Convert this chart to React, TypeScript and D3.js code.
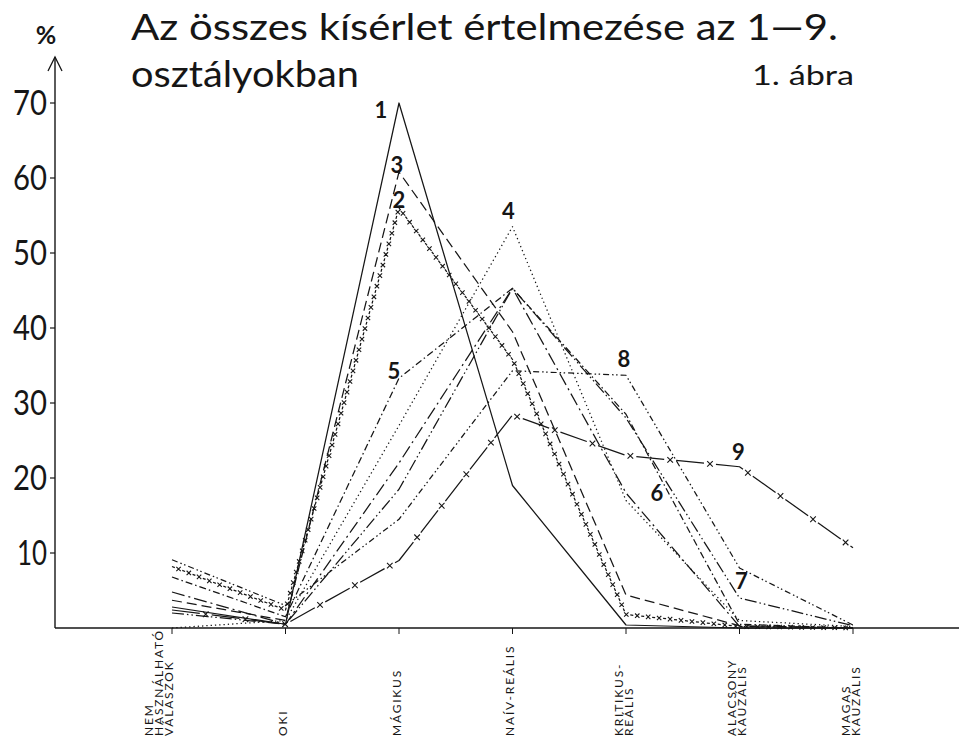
import React from 'react';
import * as d3 from 'd3';

// category labels (each inner array = lines of the rotated label)
const categories: string[][] = [
  ['NEM', 'HASZNÁLHATÓ', 'VÁLASZOK'],
  ['OKI'],
  ['MÁGIKUS'],
  ['NAÍV-REÁLIS'],
  ['KRITIKUS-', 'REÁLIS'],
  ['ALACSONY', 'KAUZÁLIS'],
  ['MAGAS', 'KAUZÁLIS'],
];

const yTicks = [10, 20, 30, 40, 50, 60, 70];

// percentages per class (1-9)
const class1 = [2.8, 0.5, 70, 19, 0.4, 0, 0];
const class2 = [8.2, 2.4, 56, 35.8, 1.8, 0.2, 0];
const class3 = [3.7, 1, 60.8, 39.5, 4.4, 0.3, 0];
const class4 = [0, 1, 27, 53.5, 17, 1, 0.2];
const class5 = [6.8, 1.5, 33.3, 45.3, 28.5, 0.5, 0];
const class6 = [4.8, 0.5, 22, 45.3, 18, 0.2, 0];
const class7 = [2, 0.5, 18.5, 45.3, 28, 4, 0.3];
const class8 = [9.1, 3, 14.5, 34.3, 33.7, 8, 0.4];
const class9 = [2.4, 0.5, 9, 28.4, 23, 21.5, 10.7];

const seriesNames = ['1', '2', '3', '4', '5', '6', '7', '8', '9'];

const W = 959;
const H = 737;
const ink = '#161616';
const font = 'Lato, "Open Sans", sans-serif';

// line styles
const styles = [
  { dash: null, mark: null },
  { dash: '3,8', mark: { step: 11, start: 7, r: 2.2 } },
  { dash: '10,5', mark: null },
  { dash: '1.3,3', mark: null },
  { dash: '7,3,1.5,3', mark: null },
  { dash: '13,4,2,4', mark: null },
  { dash: '12,3,1.5,3,1.5,3', mark: null },
  { dash: '6,3,1.5,2.5,1.5,3', mark: null },
  { dash: '28,12', mark: { step: 40, start: 34, r: 2.8 } },
];

// where the number tags sit: [category index, value, dx, dy]
const labelAt: [number, number, number, number][] = [
  [2, 70, -18, 7],
  [2, 56, 0, -8],
  [2, 60.8, -2, -7],
  [3, 53.5, -4, -15],
  [2, 33.3, -5, -7],
  [4, 18, 31, 0],
  [5, 4, 2, -17],
  [4, 33.7, -2, -16],
  [5, 21.5, -1, -14],
];

function along(pts: [number, number][], step: number, start: number) {
  const out: [number, number][] = [];
  let acc = 0;
  let next = start;
  for (let i = 1; i < pts.length; i++) {
    const [x0, y0] = pts[i - 1];
    const [x1, y1] = pts[i];
    const len = Math.hypot(x1 - x0, y1 - y0);
    while (next <= acc + len) {
      const t = (next - acc) / len;
      out.push([x0 + (x1 - x0) * t, y0 + (y1 - y0) * t]);
      next += step;
    }
    acc += len;
  }
  return out;
}

const App: React.FC = () => {
  const data = [class1, class2, class3, class4, class5, class6, class7, class8, class9];
  const x = d3.scaleLinear().domain([0, categories.length - 1]).range([172, 853]);
  const y = d3.scaleLinear().domain([0, 70]).range([628, 103]);
  const axisX = 55;

  const line = d3.line<number>()
    .x((_, i) => x(i))
    .y(d => y(d));

  return (
    <svg width={W} height={H} viewBox={`0 0 ${W} ${H}`}
      style={{ position: 'absolute', left: 0, top: 0, background: '#fff' }}>
      <rect width={W} height={H} fill="#fff" />

      {/* title */}
      <text x={131} y={40} fontFamily={font} fontSize={37} fill={ink}
        textLength={707} lengthAdjust="spacingAndGlyphs">
        Az összes kísérlet értelmezése az 1—9.
      </text>
      <text x={131} y={87} fontFamily={font} fontSize={37} fill={ink}
        textLength={228} lengthAdjust="spacingAndGlyphs">
        osztályokban
      </text>
      <text x={752} y={85} fontFamily={font} fontSize={27} fill={ink}
        textLength={102} lengthAdjust="spacingAndGlyphs">1. ábra</text>
      <text x={46} y={44} fontFamily={font} fontSize={25} fontWeight={700}
        textAnchor="middle" fill={ink}>%</text>

      {/* y axis */}
      <line x1={axisX} x2={axisX} y1={57} y2={628} stroke={ink} strokeWidth={1.4} />
      <path d={`M${axisX - 7},${71} L${axisX},${57} L${axisX + 7},${71}`}
        fill="none" stroke={ink} strokeWidth={1.3} />
      {yTicks.map(t => (
        <g key={t}>
          <line x1={axisX - 5} x2={axisX} y1={y(t)} y2={y(t)} stroke={ink} strokeWidth={1.2} />
          <text x={axisX - 8} y={y(t)} dy="0.35em" textAnchor="end"
            fontFamily={font} fontSize={34} fill={ink}
            textLength={t === 10 ? 30 : 34} lengthAdjust="spacingAndGlyphs">{t}</text>
        </g>
      ))}

      {/* x axis */}
      <line x1={axisX} x2={W} y1={628} y2={628} stroke={ink} strokeWidth={1.6} />
      {categories.map((c, i) => {
        const shift = i === 0 ? -14 : -3;
        return (
          <g key={i}>
            <line x1={x(i)} x2={x(i)} y1={628} y2={634} stroke={ink} strokeWidth={1} />
            {c.map((ln, j) => {
              const cx = x(i) + shift + (j - (c.length - 1) / 2) * 10;
              return (
                <text key={j} transform={`translate(${cx + 4.5},${736}) rotate(-90)`}
                  fontFamily={font} fontSize={12} letterSpacing={1.8} fill={ink}>
                  {ln}
                </text>
              );
            })}
          </g>
        );
      })}

      {/* series */}
      {data.map((d, k) => {
        const st = styles[k];
        const pts = d.map((v, i) => [x(i), y(v)] as [number, number]);
        const marks = st.mark ? along(pts, st.mark.step, st.mark.start) : [];
        return (
          <g key={k}>
            <path d={line(d) ?? ''} fill="none" stroke={ink} strokeWidth={1.25}
              strokeDasharray={st.dash ?? undefined} strokeLinejoin="round" />
            {marks.map(([mx, my], m) => {
              const r = st.mark!.r;
              return (
                <path key={m}
                  d={`M${mx - r},${my - r}L${mx + r},${my + r}M${mx - r},${my + r}L${mx + r},${my - r}`}
                  stroke={ink} strokeWidth={1.1} />
              );
            })}
          </g>
        );
      })}

      {/* series number tags */}
      {labelAt.map(([ci, v, dx, dy], k) => (
        <text key={k} x={x(ci) + dx} y={y(v) + dy} textAnchor="middle" dy="0.35em"
          fontFamily={font} fontSize={22} fontWeight={700} fill={ink}>
          {seriesNames[k]}
        </text>
      ))}
    </svg>
  );
};

export default App;
